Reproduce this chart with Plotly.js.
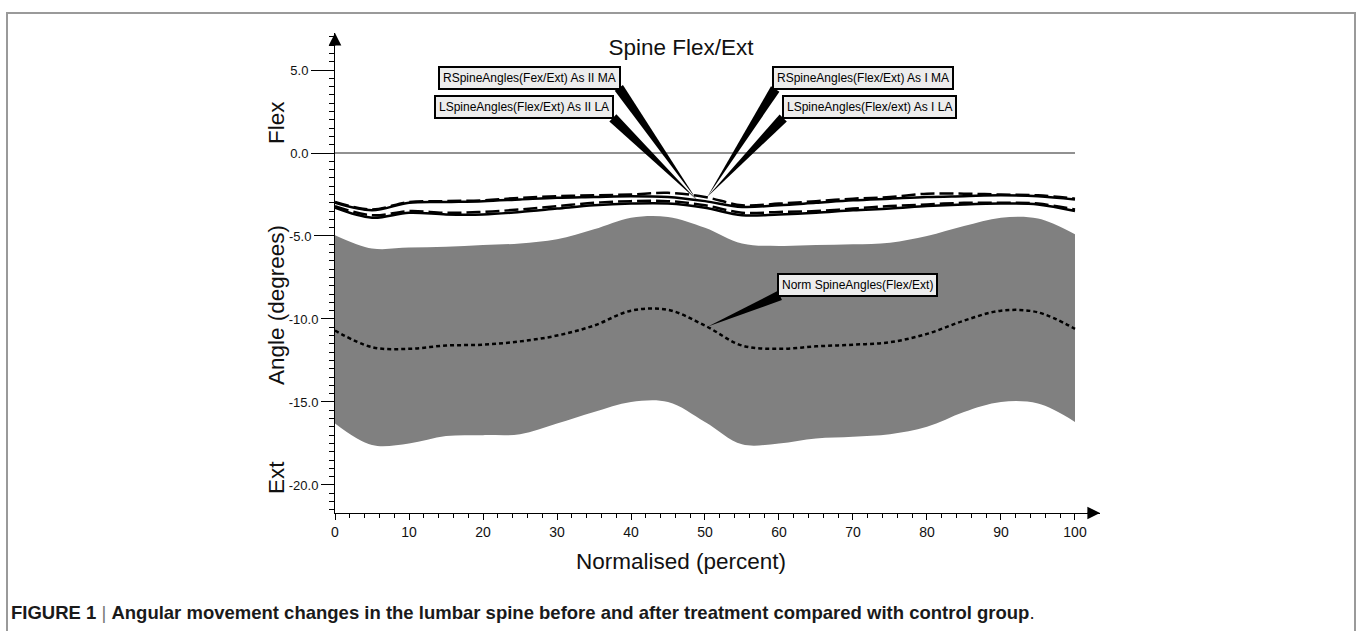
<!DOCTYPE html>
<html>
<head>
<meta charset="utf-8">
<script src="https://cdn.plot.ly/plotly-3.0.1.min.js"></script>
<style>
  html, body { margin: 0; padding: 0; background: #ffffff; }
  #chart { width: 1357px; height: 631px; }
</style>
</head>
<body>
<div id="chart"></div>
<script>
// ---------------- data ----------------
const pct = [0, 5, 10, 15, 20, 25, 30, 35, 40, 45, 50, 55, 60, 65, 70, 75, 80, 85, 90, 95, 100];

// Normal band (mean +/- SD)
const normUpper = [-4.95, -5.75, -5.7, -5.65, -5.55, -5.45, -5.2, -4.6, -3.9, -3.85, -4.5, -5.45, -5.6, -5.55, -5.5, -5.4, -5.0, -4.4, -3.9, -3.95, -4.9];
const normLower = [-16.3, -17.6, -17.5, -17.05, -17.0, -16.95, -16.3, -15.6, -15.0, -15.0, -16.2, -17.55, -17.5, -17.2, -17.1, -16.95, -16.5, -15.6, -15.0, -15.1, -16.2];
const normMean  = [-10.7, -11.7, -11.8, -11.6, -11.55, -11.35, -11.0, -10.4, -9.5, -9.45, -10.4, -11.6, -11.8, -11.65, -11.55, -11.4, -10.9, -10.1, -9.5, -9.6, -10.6];

// Subject curves
const rMA_II = [-2.95, -3.4, -2.95, -2.9, -2.85, -2.7, -2.6, -2.55, -2.5, -2.4, -2.65, -3.15, -3.05, -2.9, -2.75, -2.65, -2.45, -2.45, -2.5, -2.55, -2.75];
const rMA_I  = [-3.0, -3.45, -3.0, -2.95, -2.9, -2.8, -2.7, -2.65, -2.6, -2.65, -2.9, -3.25, -3.15, -3.0, -2.85, -2.75, -2.65, -2.6, -2.55, -2.6, -2.8];
const lLA_II = [-3.2, -3.75, -3.5, -3.6, -3.55, -3.4, -3.2, -3.0, -2.9, -2.9, -3.15, -3.6, -3.55, -3.5, -3.35, -3.2, -3.1, -3.0, -3.0, -3.05, -3.4];
const lLA_I  = [-3.3, -3.9, -3.6, -3.7, -3.7, -3.55, -3.35, -3.15, -3.05, -3.05, -3.3, -3.75, -3.7, -3.6, -3.45, -3.35, -3.2, -3.1, -3.05, -3.1, -3.5];

// Reference (zero) line
const refX = [0, 100];
const refY = [0, 0];

// Tick labels
const xTickVals = [0, 10, 20, 30, 40, 50, 60, 70, 80, 90, 100];
const xTickText = ['0', '10', '20', '30', '40', '50', '60', '70', '80', '90', '100'];
const yTickVals = [5, 0, -5, -10, -15, -20];
const yTickText = ['5.0', '0.0', '-5.0', '-10.0', '-15.0', '-20.0'];

// Callout labels: text, tip (data), box-centre offset (px), wedge base offset (px)
const calloutText = [
  'RSpineAngles(Fex/Ext) As II MA',
  'LSpineAngles(Flex/Ext) As II LA',
  'RSpineAngles(Flex/Ext) As I MA',
  'LSpineAngles(Flex/ext) As I LA',
  'Norm SpineAngles(Flex/Ext)'
];
const calloutTipX = [48.9, 48.9, 50.3, 50.3, 50.4];
const calloutTipY = [-2.83, -2.83, -2.65, -2.65, -10.45];
const calloutBoxDX = [-167, -173, 156, 162, 150];
const calloutBoxDY = [-122, -93, -119, -90, -41];
const calloutBaseDX = [-78, -84, 68, 76, 72];
const calloutBaseDY = [-112, -82, -108, -79, -31];

// ---------------- layout geometry ----------------
const W = 1357, H = 631;
const M = { l: 335, r: 257, t: 33, b: 118 };
const plotW = W - M.l - M.r, plotH = H - M.t - M.b;
const xRange = [0, 103.38];
const yRange = [-21.69, 7.23];
const px = p => (p - M.l) / plotW;           // pixel x -> paper x
const py = p => (H - M.b - p) / plotH;        // pixel y -> paper y

const FONT = 'Arial, "Liberation Sans", sans-serif';

// ---------------- traces ----------------
const traces = [
  { x: pct, y: normLower, mode: 'lines', line: { width: 0, shape: 'spline', color: '#808080' }, hoverinfo: 'skip' },
  { x: pct, y: normUpper, mode: 'lines', line: { width: 0, shape: 'spline', color: '#808080' }, fill: 'tonexty', fillcolor: '#808080', hoverinfo: 'skip' },
  { x: refX, y: refY, mode: 'lines', line: { width: 1, color: '#222' }, hoverinfo: 'skip' },
  { x: pct, y: normMean, mode: 'lines', line: { width: 2.5, color: '#000', dash: '4px,3px', shape: 'spline' } },
  { x: pct, y: rMA_I, mode: 'lines', line: { width: 2.5, color: '#000', shape: 'spline' } },
  { x: pct, y: rMA_II, mode: 'lines', line: { width: 2.5, color: '#000', dash: '14px,5px', shape: 'spline' } },
  { x: pct, y: lLA_I, mode: 'lines', line: { width: 2.5, color: '#000', shape: 'spline' } },
  { x: pct, y: lLA_II, mode: 'lines', line: { width: 2.5, color: '#000', dash: '14px,5px', shape: 'spline' } },
  // placeholders so overlaid tick axes exist
  { x: [], y: [], yaxis: 'y2', hoverinfo: 'skip' },
  { x: [], y: [], yaxis: 'y3', hoverinfo: 'skip' }
];

// ---------------- y tick groups (label width decides tick length) ----------------
const lenByChars = { 3: 23, 4: 20, 5: 13 };
const groups = {};
yTickText.forEach((t, i) => {
  const L = lenByChars[t.length] || 13;
  (groups[L] = groups[L] || { vals: [], text: [] });
  groups[L].vals.push(yTickVals[i]);
  groups[L].text.push(t);
});
const groupKeys = Object.keys(groups).map(Number).sort((a, b) => b - a);

const baseY = {
  range: yRange, autorange: false, showgrid: false, zeroline: false,
  ticks: 'outside', tickcolor: '#000', tickwidth: 1,
  tickfont: { family: FONT, size: 13, color: '#111' },
  tickmode: 'array', fixedrange: true
};

const TITLE_SIZE = 22.5;

const layout = {
  width: W, height: H,
  margin: M,
  paper_bgcolor: '#ffffff', plot_bgcolor: '#ffffff',
  showlegend: false, hovermode: false,
  title: { text: 'Spine Flex/Ext', x: 681 / W, xanchor: 'center', y: 1 - 47 / H, yanchor: 'middle',
           font: { family: FONT, size: TITLE_SIZE, color: '#111' } },
  xaxis: {
    range: xRange, autorange: false, showgrid: false, zeroline: false,
    showline: true, linecolor: '#000', linewidth: 1,
    ticks: 'outside', ticklen: 6, tickcolor: '#000', tickwidth: 1,
    tickmode: 'array', tickvals: xTickVals, ticktext: xTickText,
    tickfont: { family: FONT, size: 14, color: '#111' },
    minor: { dtick: 2, tick0: 0, ticks: 'outside', ticklen: 4, tickcolor: '#000', tickwidth: 1, showgrid: false },
    fixedrange: true
  },
  yaxis: Object.assign({}, baseY, {
    showline: true, linecolor: '#000', linewidth: 1,
    tickvals: groups[groupKeys[0]].vals, ticktext: groups[groupKeys[0]].text, ticklen: groupKeys[0],
    minor: { dtick: 0.5, tick0: 0, ticks: 'outside', ticklen: 5, tickcolor: '#000', tickwidth: 1, showgrid: false }
  }),
  yaxis2: Object.assign({}, baseY, {
    overlaying: 'y', anchor: 'x', side: 'left', showline: false,
    tickvals: groups[groupKeys[1]].vals, ticktext: groups[groupKeys[1]].text, ticklen: groupKeys[1]
  }),
  yaxis3: Object.assign({}, baseY, {
    overlaying: 'y', anchor: 'x', side: 'left', showline: false,
    tickvals: groups[groupKeys[2]].vals, ticktext: groups[groupKeys[2]].text, ticklen: groupKeys[2]
  }),
  shapes: [
    // figure frame
    { type: 'rect', xref: 'paper', yref: 'paper', x0: px(7), x1: px(1355), y0: py(650), y1: py(13),
      line: { color: '#9a9a9a', width: 2 }, fillcolor: 'rgba(0,0,0,0)', layer: 'below' }
  ],
  annotations: [
    // axis arrowheads
    { xref: 'paper', yref: 'paper', x: 0, y: 1, ax: 0, ay: 14, axref: 'pixel', ayref: 'pixel',
      showarrow: true, arrowhead: 2, arrowsize: 2.1, arrowwidth: 1.2, arrowcolor: '#000', text: '' },
    { xref: 'paper', yref: 'paper', x: 1, y: 0, ax: -14, ay: 0, axref: 'pixel', ayref: 'pixel',
      showarrow: true, arrowhead: 2, arrowsize: 2.1, arrowwidth: 1.2, arrowcolor: '#000', text: '' },
    // y-axis titles
    { xref: 'paper', yref: 'paper', x: px(276), y: py(123), text: 'Flex', textangle: -90, showarrow: false,
      xanchor: 'center', yanchor: 'middle', font: { family: FONT, size: TITLE_SIZE, color: '#111' } },
    { xref: 'paper', yref: 'paper', x: px(276), y: py(305), text: 'Angle (degrees)', textangle: -90, showarrow: false,
      xanchor: 'center', yanchor: 'middle', font: { family: FONT, size: TITLE_SIZE, color: '#111' } },
    { xref: 'paper', yref: 'paper', x: px(276), y: py(478), text: 'Ext', textangle: -90, showarrow: false,
      xanchor: 'center', yanchor: 'middle', font: { family: FONT, size: TITLE_SIZE, color: '#111' } },
    // x-axis title
    { xref: 'paper', yref: 'paper', x: px(681), y: py(561), text: 'Normalised (percent)', showarrow: false,
      xanchor: 'center', yanchor: 'middle', font: { family: FONT, size: TITLE_SIZE, color: '#111' } },
    // caption
    { xref: 'paper', yref: 'paper', x: px(9), y: py(612), xanchor: 'left', yanchor: 'middle', showarrow: false,
      text: '<b>FIGURE 1</b> <span style="color:#777">|</span> <b>Angular movement changes in the lumbar spine before and after treatment compared with control group</b>.',
      font: { family: '"Liberation Sans Narrow", "Arial Narrow", Arial, sans-serif', size: 18.5, color: '#1a1a1a' } }
  ]
};

// callout boxes + wedges
calloutText.forEach((t, i) => {
  layout.annotations.push({
    xref: 'x', yref: 'y', x: calloutTipX[i], y: calloutTipY[i],
    xshift: calloutBoxDX[i], yshift: -calloutBoxDY[i],
    xanchor: 'center', yanchor: 'middle', showarrow: false,
    text: t, font: { family: FONT, size: 12, color: '#000' },
    bgcolor: '#ededed', bordercolor: '#000', borderwidth: 2, borderpad: 3
  });
  const ux = calloutBaseDX[i], uy = -calloutBaseDY[i];
  const L = Math.hypot(ux, uy), w = 10;
  const nx = -uy / L * w / 2, ny = ux / L * w / 2;
  layout.shapes.push({
    type: 'path', xref: 'x', yref: 'y', xsizemode: 'pixel', ysizemode: 'pixel',
    xanchor: calloutTipX[i], yanchor: calloutTipY[i],
    path: `M0,0 L${(ux + nx).toFixed(1)},${(uy + ny).toFixed(1)} L${(ux - nx).toFixed(1)},${(uy - ny).toFixed(1)} Z`,
    fillcolor: '#000', line: { width: 0 }, layer: 'above'
  });
});

Plotly.newPlot('chart', traces, layout, { displayModeBar: false, staticPlot: true });
</script>
</body>
</html>
